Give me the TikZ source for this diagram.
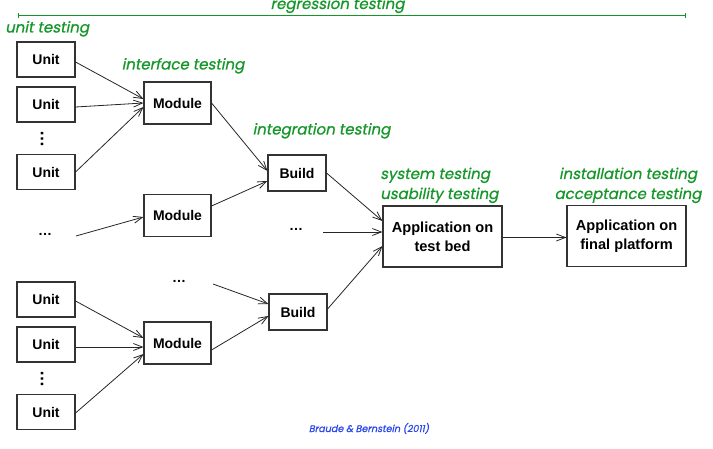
\documentclass[tikz,border=0pt]{standalone}
\usepackage{fontspec}
\setmainfont{Liberation Sans}
\newfontfamily\gfont{Poppins}[FakeSlant=0.2,FakeBold=0.8]
\usetikzlibrary{arrows.meta}
\definecolor{tgreen}{RGB}{20,150,40}
\definecolor{cblue}{RGB}{40,70,235}
\begin{document}
\begin{tikzpicture}[x=1pt,y=-1pt,
  box/.style={draw=black!80,line width=1.1pt,inner sep=0pt,align=center,
    font=\fontsize{14}{17}\selectfont\bfseries},
  unitbox/.style={box,minimum width=58pt,minimum height=35pt},
  modbox/.style={box,minimum width=67pt,minimum height=42pt},
  buildbox/.style={box,minimum width=58pt,minimum height=36pt},
  appbox/.style={box,minimum width=119pt,minimum height=61pt,
    font=\fontsize{14.6}{19}\selectfont\bfseries},
  lbl/.style={text=tgreen,inner sep=0pt,font=\gfont\fontsize{15}{20}\selectfont},
  arr/.style={-{Straight Barb[length=9pt,width=7pt]},line width=0.8pt,draw=black!85},
  dotsl/.style={inner sep=0pt,font=\fontsize{14}{17}\selectfont\bfseries},
  vdotsl/.style={inner sep=0pt,font=\fontsize{17}{17}\selectfont\bfseries,rotate=90}
]
\useasboundingbox (0,0) rectangle (713,449);

% regression line
\coordinate (rl) at (18,16);
\coordinate (rr) at (686,16);
\draw[tgreen,line width=1pt,{Bar[width=5pt]}-{Bar[width=5pt]}] (rl) -- (rr);

% labels
\node[lbl,anchor=base] (lreg) at (337.5,9) {regression testing};
\node[lbl,anchor=base west] (lunit) at (5,32.5) {unit testing};
\node[lbl,anchor=base] (lint) at (183,69.5) {interface testing};
\node[lbl,anchor=base] (linteg) at (321.5,134.5) {integration testing};
\node[lbl,anchor=base west,align=left] (lsys) at (380,199) {system testing\\usability testing};
\node[lbl,anchor=base,align=center] (linst) at (628,199) {installation testing\\acceptance testing};

% boxes
\node[unitbox] (u1) at (46,59.5) {Unit};
\node[unitbox] (u2) at (46,104.5) {Unit};
\node[unitbox] (u3) at (46,172) {Unit};
\node[unitbox] (u4) at (46,299.5) {Unit};
\node[unitbox] (u5) at (46,344.5) {Unit};
\node[unitbox] (u6) at (46,412) {Unit};
\node[modbox] (m1) at (177.5,103) {Module};
\node[modbox] (m2) at (177.5,215.5) {Module};
\node[modbox] (m3) at (177.5,343) {Module};
\node[buildbox] (b1) at (297,173) {Build};
\node[buildbox] (b2) at (298,312) {Build};
\node[appbox] (a1) at (442.5,236.5) {Application on\\test bed};
\node[appbox] (a2) at (626.5,236) {Application on\\final platform};

% dots
\node[dotsl] (d1) at (45,234) {…};
\node[dotsl] (d2) at (296,229) {…};
\node[dotsl] (d3) at (179,281) {…};
\node[vdotsl] (v1) at (42,139) {…};
\node[vdotsl] (v2) at (42,379) {…};

% free starts
\coordinate (s1) at (76,236);
\coordinate (s2) at (323,232);
\coordinate (s3) at (213,284);

% connectors
\draw[arr] (u1.east |- 0,62) -- (m1.west |- 0,99);
\draw[arr] (u2.east |- 0,107) -- (m1.west |- 0,103);
\draw[arr] (u3.east |- 0,172) -- (m1.west |- 0,107);
\draw[arr] (m1.east |- 0,103) -- (b1.west |- 0,171);
\draw[arr] (m2.east |- 0,206) -- (b1.west |- 0,181);
\draw[arr] (s1) -- (m2.west |- 0,217);
\draw[arr] (b1.east |- 0,173) -- (a1.west |- 0,221);
\draw[arr] (s2) -- (a1.west |- 0,232);
\draw[arr] (b2.east |- 0,309) -- (a1.west |- 0,246);
\draw[arr] (a1.east |- 0,237.5) -- (a2.west |- 0,237.5);
\draw[arr] (s3) -- (b2.west |- 0,304);
\draw[arr] (u4.east |- 0,301) -- (m3.west |- 0,338);
\draw[arr] (u5.east |- 0,347) -- (m3.west |- 0,347);
\draw[arr] (u6.east |- 0,413) -- (m3.west |- 0,354);
\draw[arr] (m3.east |- 0,350) -- (b2.west |- 0,316);

% citation
\node[text=cblue,inner sep=0pt,anchor=base,font=\gfont\fontsize{9.6}{10}\selectfont] (cite) at (369,432) {Braude \& Bernstein (2011)};
\end{tikzpicture}
\end{document}
